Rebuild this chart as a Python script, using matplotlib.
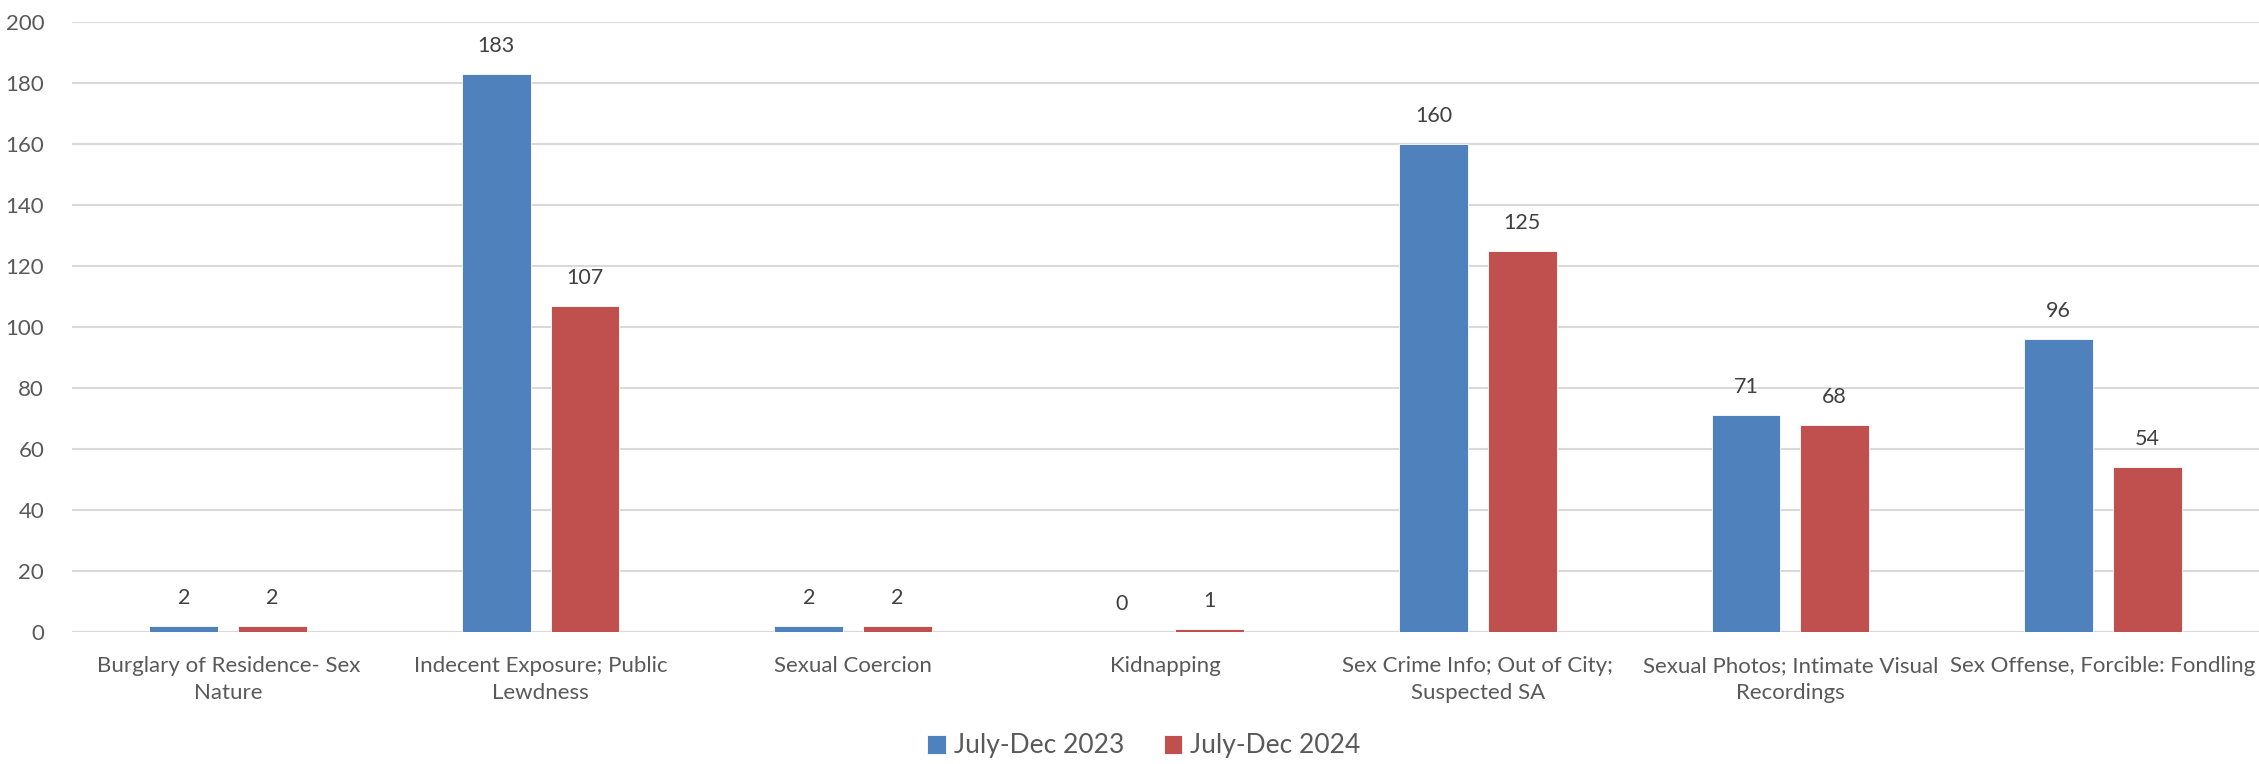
import numpy as np
from matplotlib import pyplot as plt

plt.rcParams['font.family'] = ['Lato', 'DejaVu Sans']

categories = ['Burglary of Residence- Sex\nNature',
              'Indecent Exposure; Public\nLewdness',
              'Sexual Coercion',
              'Kidnapping',
              'Sex Crime Info; Out of City;\nSuspected SA',
              'Sexual Photos; Intimate Visual\nRecordings',
              'Sex Offense, Forcible: Fondling']
series_names = ['July-Dec 2023', 'July-Dec 2024']
vals_2023 = [2, 183, 2, 0, 160, 71, 96]
vals_2024 = [2, 107, 2, 1, 125, 68, 54]
colors = ['#4F81BD', '#C0504D']

fig = plt.figure(figsize=(22.59, 7.64), dpi=100)
ax = fig.add_axes([72/2259, 132/764, 1 - 72/2259, 610/764])

x = np.arange(len(categories))
w = 0.22
off = 0.142
for i, (vals, c, name) in enumerate(zip([vals_2023, vals_2024], colors, series_names)):
    pos = x + (off if i else -off)
    ax.bar(pos, vals, width=w, color=c, label=name, zorder=3,
           edgecolor='white', linewidth=0.6)
    for p, v in zip(pos, vals):
        ax.annotate(str(v), (p, v), xytext=(0, 13), textcoords='offset points',
                    ha='center', va='bottom', fontsize=15.5, color='#404040')

ax.set_xlim(-0.5, len(categories) - 0.5)
ax.set_ylim(0, 200)
ax.set_yticks(np.arange(0, 201, 20))
ax.yaxis.grid(True, color='#d9d9d9', linewidth=1.5, zorder=0)
ax.set_axisbelow(True)
for s in ax.spines.values():
    s.set_visible(False)
ax.axhline(0, color='#d9d9d9', linewidth=1.5, zorder=2)
ax.tick_params(axis='both', length=0, colors='#595959')
ax.tick_params(axis='y', pad=20, labelsize=16)
ax.tick_params(axis='x', pad=17, labelsize=16)
ax.set_xticks(x)
ax.set_xticklabels(categories, linespacing=1.45)

fig.legend(loc='center', bbox_to_anchor=(1144/2259, 1 - 746/764), ncol=2,
           frameon=False, fontsize=19, handlelength=0.7, handleheight=0.7,
           handletextpad=0.3, columnspacing=1.5, labelcolor='#595959')

fig.savefig('out.png', dpi=100)
